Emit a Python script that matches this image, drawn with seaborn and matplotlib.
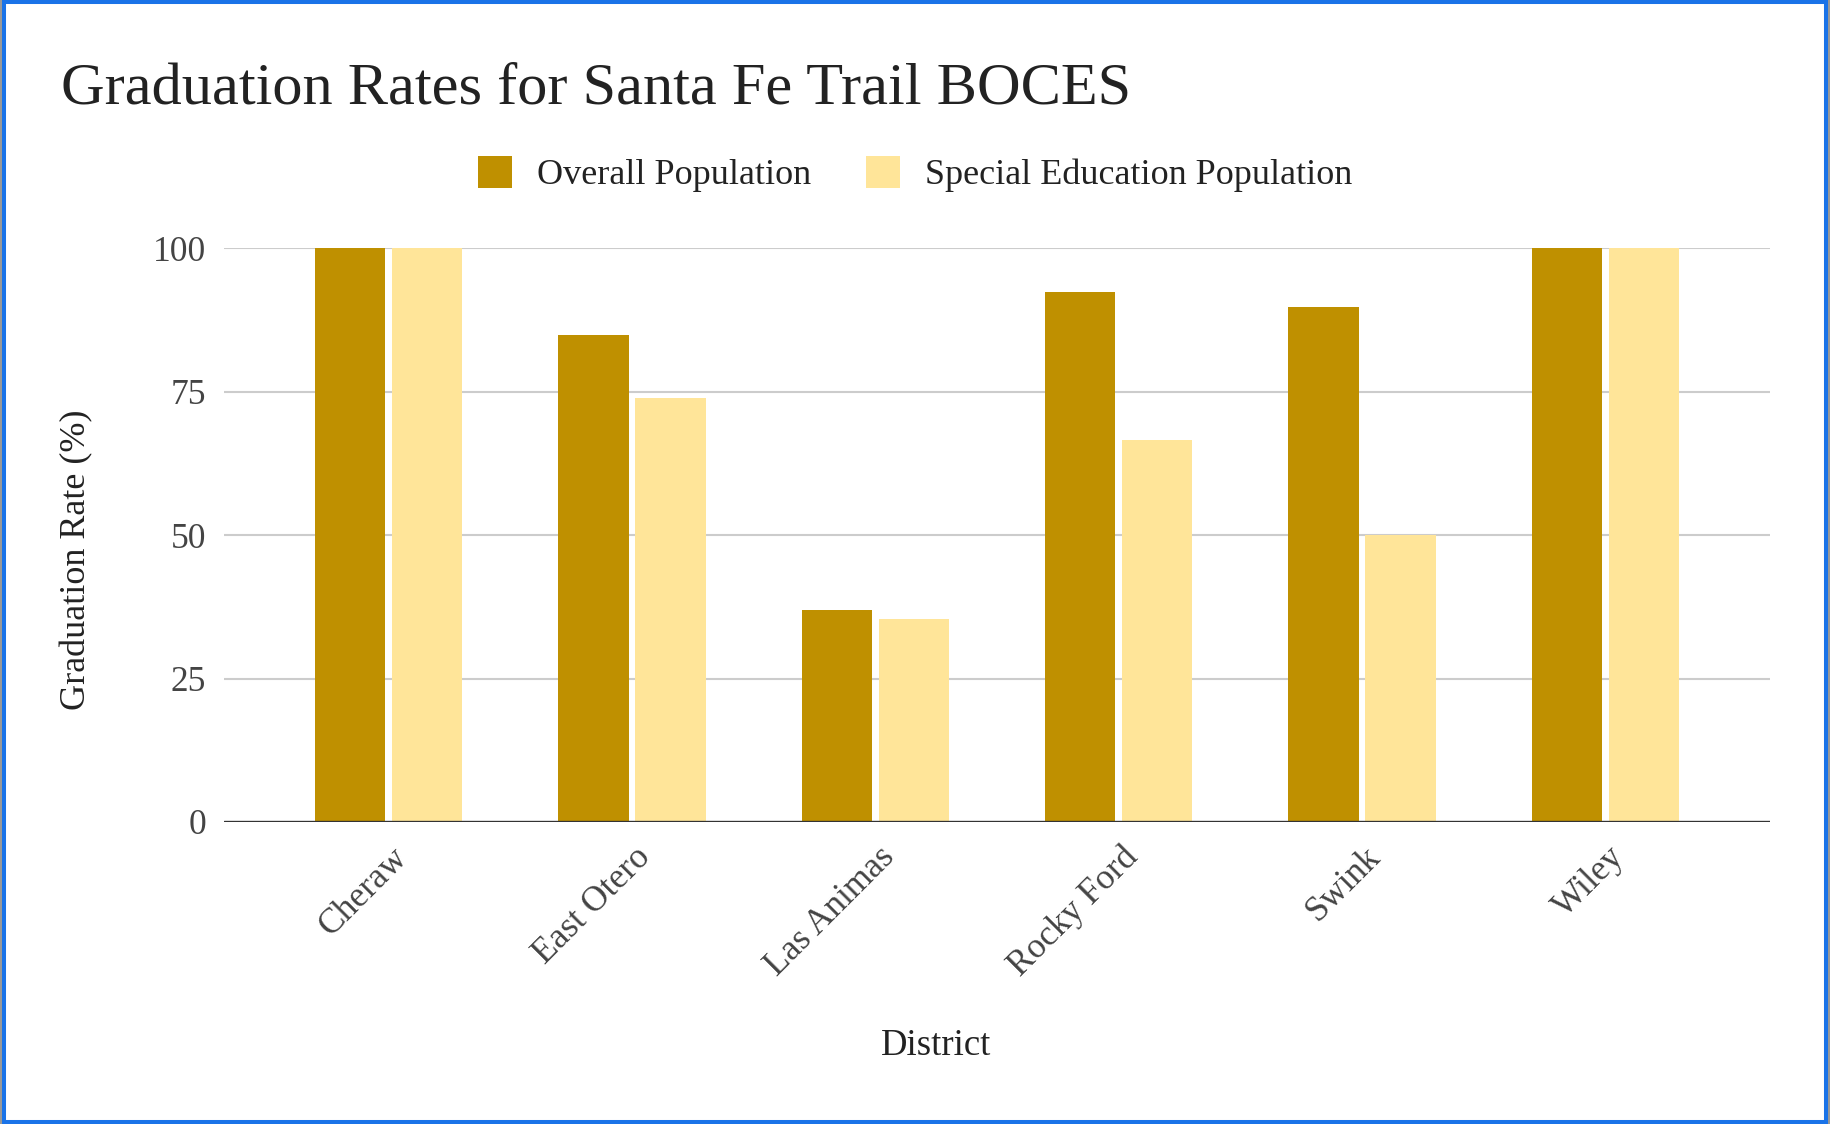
import matplotlib
matplotlib.use("Agg")
import matplotlib.pyplot as plt
import matplotlib.patches as mpatches
import matplotlib.transforms as mtransforms
import seaborn as sns
import pandas as pd

districts = ["Cheraw", "East Otero", "Las Animas", "Rocky Ford", "Swink", "Wiley"]
overall = [100, 84.9, 37.0, 92.4, 89.8, 100]
special_ed = [100, 73.9, 35.4, 66.6, 50.0, 100]
series_names = ["Overall Population", "Special Education Population"]
y_ticks = [0, 25, 50, 75, 100]

df = pd.DataFrame({
    "District": districts * 2,
    "Rate": overall + special_ed,
    "Population": [series_names[0]] * len(districts) + [series_names[1]] * len(districts),
})

sns.set_theme(style="white")
plt.rcParams["font.family"] = ["Liberation Serif", "DejaVu Serif"]

W, H = 1830, 1124
fig = plt.figure(figsize=(W / 100, H / 100), dpi=100)
ax = fig.add_axes([224 / W, 1 - 822 / H, (1770 - 224) / W, (822 - 248.3) / H])

sns.barplot(data=df, x="District", y="Rate", hue="Population",
            palette=["#bf9000", "#ffe599"], saturation=1,
            width=0.633, gap=0.09, linewidth=0, ax=ax)

ax.set_ylim(0, 100)
ax.set_xlim(-0.677, len(districts) - 1 + 0.677)
ax.set_yticks(y_ticks)
ax.set_yticklabels([str(v) for v in y_ticks])
ax.yaxis.grid(True, color="#cccccc", linewidth=1.5)
ax.set_axisbelow(True)
ax.axhline(0, color="#333333", linewidth=2.4, zorder=5)
for s in ax.spines.values():
    s.set_visible(False)
ax.tick_params(axis="y", length=0, pad=13, labelsize=25.5, labelcolor="#444444")
ax.tick_params(axis="x", length=0, pad=22, labelsize=25.5, labelcolor="#444444")
ax.set_xlabel("")
ax.set_ylabel("")
offset = mtransforms.ScaledTranslation(14 / 100, 0, fig.dpi_scale_trans)
for lbl in ax.get_xticklabels():
    lbl.set_rotation(45)
    lbl.set_ha("right")
    lbl.set_va("center")
    lbl.set_rotation_mode("anchor")
    lbl.set_transform(lbl.get_transform() + offset)

handles, labels = ax.get_legend_handles_labels()
if ax.get_legend() is not None:
    ax.get_legend().remove()
fig.legend(handles, labels, loc="center", bbox_to_anchor=(0.5, 1 - 174 / H),
           ncol=2, frameon=False, fontsize=26, handlelength=0.95, handleheight=1.0,
           handletextpad=0.7, columnspacing=1.5, labelcolor="#222222")

fig.text(61 / W, 1 - 89 / H, "Graduation Rates for Santa Fe Trail BOCES",
         fontsize=43.5, color="#222222", ha="left", va="center")
fig.text(77 / W, 1 - 560 / H, "Graduation Rate (%)", rotation=90,
         fontsize=26, color="#222222", ha="center", va="center")
fig.text(936 / W, 1 - 1046 / H, "District", fontsize=26.5, color="#222222",
         ha="center", va="center")

# frame border
fig.patches.append(mpatches.Rectangle((4 / W, 2 / H), (W - 8) / W, (H - 4) / H,
                                      transform=fig.transFigure, fill=False,
                                      edgecolor="#1a73e8", linewidth=2.9))
fig.patches.append(mpatches.Rectangle((0, 0), 2 / W, 1, transform=fig.transFigure,
                                      facecolor="#999999", edgecolor="none"))
fig.patches.append(mpatches.Rectangle(((W - 2) / W, 0), 2 / W, 1, transform=fig.transFigure,
                                      facecolor="#999999", edgecolor="none"))

fig.savefig("out.png", dpi=100)
